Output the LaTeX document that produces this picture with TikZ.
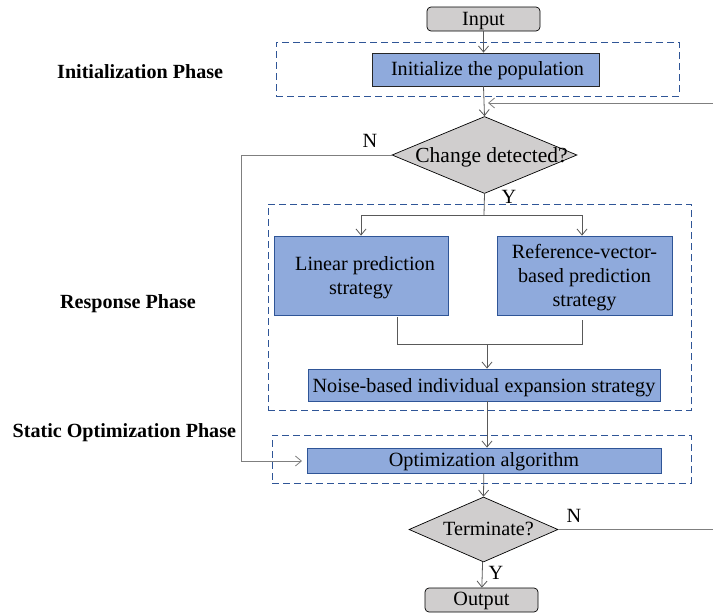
\documentclass[tikz,border=0pt]{standalone}
\usepackage{fontspec}
\setmainfont{Liberation Serif}
\usetikzlibrary{shapes.geometric,arrows.meta,calc}
\definecolor{boxfill}{HTML}{8FAADC}
\definecolor{boxline}{HTML}{2F5597}
\definecolor{greyfill}{HTML}{D0CECE}
\definecolor{dashblue}{HTML}{2F5597}
\definecolor{linegray}{HTML}{595959}
\definecolor{loopgray}{HTML}{7F7F7F}
\newcommand\lowered[2]{\raisebox{-#1}[\height][\depth]{#2}}
\begin{document}
\begin{tikzpicture}[x=1pt,y=-1pt,
  font=\rmfamily\fontsize{20.2}{24}\selectfont,
  oneline/.style={text height=14pt, text depth=2pt},
  term/.style={oneline, draw=black, line width=0.7pt, fill=greyfill, rounded corners=4pt, inner sep=0pt, minimum width=113pt, minimum height=24pt},
  procbox/.style={draw=boxline, line width=0.8pt, fill=boxfill, inner sep=0pt},
  decide/.style={oneline, diamond, draw=black, line width=0.7pt, fill=greyfill, inner sep=0pt},
  dashbox/.style={draw=dashblue, line width=0.9pt, dash pattern=on 7pt off 4pt, inner sep=0pt},
  conn/.style={draw=linegray, line width=0.8pt},
  arr/.style={conn, -{Straight Barb[length=6pt,width=10pt]}},
  phase/.style={font=\rmfamily\bfseries\fontsize{20.1}{24}\selectfont, anchor=base west, inner sep=0pt},
  lbl/.style={inner sep=0pt}]
\useasboundingbox (0,0) rectangle (713,616);
\clip (0,0) rectangle (713,616);

% dashed phase boxes
\node[dashbox, minimum width=403pt, minimum height=54pt] (ph1) at (477.5,69) {};
\node[dashbox, minimum width=423pt, minimum height=206pt] (ph2) at (479.5,307) {};
\node[dashbox, minimum width=419pt, minimum height=48pt] (ph3) at (481.5,459) {};

% phase labels
\node[phase] (t1) at (57,78.3) {Initialization Phase};
\node[phase] (t2) at (60,308) {Response Phase};
\node[phase] (t3) at (12.5,437) {Static Optimization Phase};

% nodes
\node[term] (in) at (483.5,19) {Input};
\node[procbox, oneline, draw=black!85, minimum width=227pt, minimum height=33pt, text height=13.5pt] (init) at (485.5,69.5) {\hspace{4pt}Initialize the population};
\node[decide, text height=16pt, minimum width=185pt, minimum height=77pt] (d1) at (484.5,155) {\makebox[0pt]{\hspace{14pt}\fontsize{21.5}{24}\selectfont Change detected?}};
\node[procbox, minimum width=174pt, minimum height=79pt] (lin) at (361,275.5) {\lowered{2pt}{\begin{tabular}{@{}c@{}}\hspace{8pt}Linear prediction\\strategy\end{tabular}}};
\node[procbox, minimum width=175pt, minimum height=79pt] (ref) at (584.5,275.5) {\lowered{2pt}{\begin{tabular}{@{}c@{}}Reference-vector-\\based prediction\\strategy\end{tabular}}};
\node[procbox, oneline, text height=17.4pt, minimum width=352pt, minimum height=32pt] (noise) at (484,385) {Noise-based individual expansion strategy};
\node[procbox, oneline, minimum width=354pt, minimum height=25pt] (opt) at (484,460.5) {Optimization algorithm\hspace{8pt}};
\node[decide, text height=13pt, minimum width=149pt, minimum height=65pt] (d2) at (483.5,529.5) {\makebox[0pt]{\hspace{10pt}Terminate?}};
\node[term, text height=12.5pt] (out) at (481.5,600) {Output};

% helper coordinates
\coordinate (split) at (484,215);
\coordinate (lbot) at (397,317);
\coordinate (rbot) at (582,320);
\coordinate (merge) at (487,344);
\coordinate (lx) at (241,155);
\coordinate (rx) at (722,103);
\coordinate (loopin) at (488,103);
\coordinate (optin) at (302,461);

% connectors
\draw[arr] (in) -- (in |- init.north);
\draw[arr] (init.south -| in) -- (d1.north);
\draw[conn] (d1.south) -- (split);
\draw[arr] (split) -| (lin.north);
\draw[arr] (split) -| ($(ref.north)+(-2.5,0)$);
\draw[conn] (lbot) |- (merge);
\draw[conn] (merge) -| (rbot);
\draw[arr] (merge) -- (noise.north -| merge);
\draw[arr] (noise.south -| merge) -- (opt.north -| merge);
\draw[arr] (opt) -- (d2.north);
\draw[arr] (d2) -- (out);
\draw[arr, draw=loopgray] (d1.west) -- (lx) |- (optin);
\draw[arr, draw=loopgray] (d2.east) -- (d2.east -| rx) -- (rx) -- (loopin);

% branch labels
\node[lbl] (n1) at (370,141) {N};
\node[lbl] (y1) at (509,197) {Y};
\node[lbl] (n2) at (574,516) {N};
\node[lbl] (y2) at (496,573) {Y};
\end{tikzpicture}
\end{document}
